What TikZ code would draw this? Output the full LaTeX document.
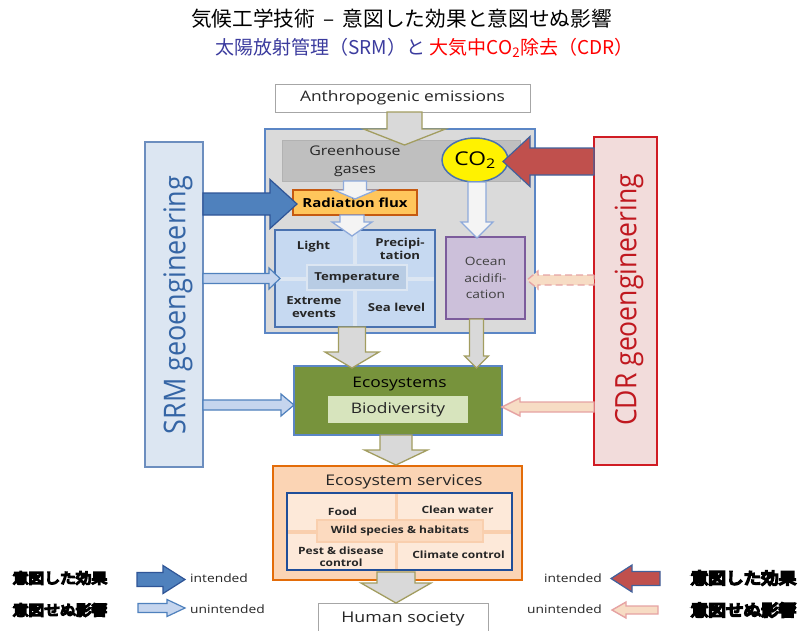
\documentclass[tikz,border=0pt]{standalone}
\usepackage{fontspec}
\usetikzlibrary{calc,shapes.geometric}
\setmainfont{Open Sans}[FakeStretch=1.2]
\newfontfamily\sidefont{Open Sans}[FakeStretch=0.9]
\newfontfamily\jp{Noto Sans CJK JP}
\newfontfamily\jpheavy{Noto Sans CJK JP}[FakeBold=11,FakeStretch=1.1]

\definecolor{srmtitle}{HTML}{3B3B9E}
\definecolor{cdrtitle}{HTML}{FF0000}
\definecolor{arrowgray}{HTML}{D9D9D9}
\definecolor{arrowolive}{HTML}{A29D60}
\definecolor{paleblue}{HTML}{F4F4F4}
\definecolor{paleblueline}{HTML}{8EAADB}
\definecolor{srmblue}{HTML}{4F81BD}
\definecolor{srmblueline}{HTML}{2F5597}
\definecolor{srmpale}{HTML}{C5D5EE}
\definecolor{cdrred}{HTML}{C0504D}
\definecolor{cdrredline}{HTML}{41619C}
\definecolor{cdrpale}{HTML}{F7DCC4}
\definecolor{cdrpaleline}{HTML}{E6A3A3}
\definecolor{srmfill}{HTML}{DCE6F2}
\definecolor{srmline}{HTML}{6C8EBF}
\definecolor{srmtext}{HTML}{3565A5}
\definecolor{cdrfill}{HTML}{F2DCDB}
\definecolor{cdrline}{HTML}{D01C24}
\definecolor{cdrtext}{HTML}{C0181F}
\definecolor{mainfill}{HTML}{DADADA}
\definecolor{mainline}{HTML}{5B86C5}
\definecolor{ghgfill}{HTML}{BFBFBF}
\definecolor{radfill}{HTML}{FFC65C}
\definecolor{radline}{HTML}{C55A11}
\definecolor{climfill}{HTML}{C6D9F1}
\definecolor{climline}{HTML}{4A72B0}
\definecolor{climgap}{HTML}{DCE6F2}
\definecolor{tempfill}{HTML}{B8CCE4}
\definecolor{oceanfill}{HTML}{CCC0DA}
\definecolor{oceanline}{HTML}{7C5C9C}
\definecolor{ecofill}{HTML}{77933C}
\definecolor{biofill}{HTML}{D7E4BD}
\definecolor{servfill}{HTML}{FBD4B4}
\definecolor{servline}{HTML}{E36C09}
\definecolor{servin}{HTML}{FDE9D9}
\definecolor{servinline}{HTML}{1F4E99}
\definecolor{servgap}{HTML}{F9CFAE}
\definecolor{bodytext}{HTML}{262626}

% Block arrows: style, from, to, shaft half width, head half width, head length
\newcommand\downblock[6]{\draw[#1] let \p1=(#2), \p2=(#3) in
  (\x1-#4,\y1) -- (\x1+#4,\y1) -- (\x1+#4,\y2+#6) -- (\x1+#5,\y2+#6) -- (\x1,\y2)
  -- (\x1-#5,\y2+#6) -- (\x1-#4,\y2+#6) -- cycle;}
\newcommand\rightblock[6]{\draw[#1] let \p1=(#2), \p2=(#3) in
  (\x1,\y1+#4) -- (\x2-#6,\y1+#4) -- (\x2-#6,\y1+#5) -- (\x2,\y1)
  -- (\x2-#6,\y1-#5) -- (\x2-#6,\y1-#4) -- (\x1,\y1-#4) -- cycle;}
\newcommand\leftblock[6]{\draw[#1] let \p1=(#2), \p2=(#3) in
  (\x1,\y1+#4) -- (\x2+#6,\y1+#4) -- (\x2+#6,\y1+#5) -- (\x2,\y1)
  -- (\x2+#6,\y1-#5) -- (\x2+#6,\y1-#4) -- (\x1,\y1-#4) -- cycle;}

\tikzset{
  box/.style={draw, inner sep=0pt, outer sep=0pt, line width=1.5pt},
  txt/.style={inner sep=0pt, outer sep=0pt, align=center, text=bodytext},
  grayarrow/.style={fill=arrowgray, draw=arrowolive, line width=1.3pt, line join=miter},
  whitearrow/.style={fill=paleblue, draw=paleblueline, line width=1.3pt},
  srmintended/.style={fill=srmblue, draw=srmblueline, line width=1.2pt},
  srmunintended/.style={fill=srmpale, draw=srmblue, line width=1.2pt},
  cdrintended/.style={fill=cdrred, draw=cdrredline, line width=1.2pt},
  cdrunintended/.style={fill=cdrpale, draw=cdrpaleline, line width=1.4pt},
  legendjp/.style={inner sep=0pt, text=black},
}

\begin{document}
\begin{tikzpicture}[x=1pt, y=-1pt]
\useasboundingbox (0,0) rectangle (802,630);
\fill[white] (0,0) rectangle (802,630);

% ---- title ----
\node[inner sep=0pt, font=\jp\fontsize{20.7}{24}\selectfont] (title) at (401.5,19)
  {気候工学技術\hspace{0.4em}–\hspace{0.4em}意図した効果と意図せぬ影響};
\node[inner sep=0pt, font=\jp\fontsize{19}{22}\selectfont] (subtitle) at (424.5,48)
  {\textcolor{srmtitle}{太陽放射管理（SRM）と} \textcolor{cdrtitle}{大気中CO\textsubscript{2}除去（CDR）}};

% ---- side panels ----
\node[box, fill=srmfill, draw=srmline, minimum width=58pt, minimum height=325pt] (srm) at (174,304.5) {};
\node[rotate=90, inner sep=0pt, text=srmtext, font=\sidefont\fontsize{30}{34}\selectfont] (srmtxt) at (178,305) {SRM geoengineering};
\node[box, fill=cdrfill, draw=cdrline, minimum width=63pt, minimum height=328pt] (cdr) at (625.5,301) {};
\node[rotate=90, inner sep=0pt, text=cdrtext, font=\sidefont\fontsize{29.5}{34}\selectfont] (cdrtxt) at (629,300) {CDR geoengineering};

% ---- climate system ----
\node[box, fill=white, draw=black!35, line width=1pt, minimum width=255pt, minimum height=28pt] (anth) at (402.5,98) {};
\node[txt, font=\fontsize{14.5}{17}\selectfont] at (anth) {Anthropogenic emissions};

\node[box, fill=mainfill, draw=mainline, line width=1.2pt, minimum width=270pt, minimum height=204pt] (main) at (400,231) {};
\node[box, fill=ghgfill, draw=black!30, line width=0.8pt, minimum width=238pt, minimum height=41pt] (ghg) at (401,160.5) {};
\node[txt, font=\fontsize{13.3}{18}\selectfont] (ghgtxt) at (355,161) {Greenhouse\\gases};

\node[ellipse, draw=climline, line width=1.5pt, fill=yellow, minimum width=66pt, minimum height=44pt, inner sep=0pt, outer sep=0pt] (co2) at (475,160) {};
\node[txt, text=black, font=\fontsize{19}{20}\selectfont] at (co2) {CO\textsubscript{2}};

\node[box, fill=radfill, draw=radline, minimum width=124pt, minimum height=25pt] (rad) at (355,202.5) {};
\node[txt, text=black, font=\bfseries\fontsize{12.5}{14}\selectfont] at (rad) {Radiation flux};

% climate variables panel
\node[box, fill=climfill, draw=none, minimum width=160pt, minimum height=97pt] (clim) at (355,278.5) {};
\draw[climgap, line width=4pt] (clim.north) -- (clim.south);
\draw[climgap, line width=4pt] (clim.west) -- (clim.east);
\node[box, fill=tempfill, draw=climgap, line width=2pt, minimum width=100pt, minimum height=25pt] (temp) at (357,277.5) {};
\node[box, draw=climline, fill=none, minimum width=160pt, minimum height=97pt] at (clim) {};
\begin{scope}[every node/.style={txt, font=\bfseries\fontsize{11}{13}\selectfont}]
  \node (light) at (313.5,247) {Light};
  \node (precip) at (400,249) {Precipi-\\tation};
  \node (temptxt) at (temp) {Temperature};
  \node (extreme) at (314,307) {Extreme\\events};
  \node (sealevel) at (396.5,307) {Sea level};
\end{scope}

\node[box, fill=oceanfill, draw=oceanline, line width=1.3pt, minimum width=79pt, minimum height=82pt] (ocean) at (485.5,278) {};
\node[txt, text=black!75, font=\fontsize{11.5}{16.5}\selectfont] at (ocean) {Ocean\\acidifi-\\cation};

% ---- ecosystems ----
\node[box, fill=ecofill, draw=mainline, line width=1.3pt, minimum width=208pt, minimum height=69pt] (eco) at (398,400.5) {};
\node[txt, text=black, font=\fontsize{14.5}{17}\selectfont] (ecotxt) at (399.5,384.5) {Ecosystems};
\node[box, fill=biofill, draw=none, minimum width=140pt, minimum height=27pt] (bio) at (398,409.5) {};
\node[txt, font=\fontsize{14.5}{17}\selectfont] at (bio) {Biodiversity};

% ---- ecosystem services ----
\node[box, fill=servfill, draw=servline, line width=2pt, minimum width=249pt, minimum height=114pt] (serv) at (397.5,523) {};
\node[txt, font=\fontsize{14.7}{17}\selectfont] (servtxt) at (404,481.5) {Ecosystem services};
\node[box, fill=servin, draw=none, minimum width=225pt, minimum height=77pt] (servbox) at (399.5,531.5) {};
\draw[servgap, line width=3.5pt] (396.7,0 |- servbox.north) -- (396.7,0 |- servbox.south);
\draw[servgap, line width=3.5pt] (servbox.west |- 0,532) -- (servbox.east |- 0,532);
\node[box, fill=servfill!70!servin, draw=servgap, line width=1.5pt, minimum width=166pt, minimum height=22pt] (wild) at (400,531) {};
\node[box, draw=servinline, fill=none, line width=1.3pt, minimum width=225pt, minimum height=77pt] at (servbox) {};
\begin{scope}[every node/.style={txt, font=\bfseries\fontsize{10}{12}\selectfont}]
  \node (food) at (342.5,511.5) {Food};
  \node (water) at (457.5,510) {Clean water};
  \node (wildtxt) at (wild) {Wild species \& habitats};
  \node (pest) at (341,557) {Pest \& disease\\control};
  \node (climctl) at (458.5,554.5) {Climate control};
\end{scope}

\node[box, fill=white, draw=black!35, line width=1pt, minimum width=170pt, minimum height=34pt] (human) at (403,620) {};
\node[txt, font=\fontsize{14.8}{17}\selectfont] at (403,619) {Human society};

% ---- flows inside the system ----
\downblock{grayarrow}{$(anth.south)+(2,0)$}{$(anth.south |- ghg.north)+(2,5)$}{17.5pt}{41pt}{16pt}
\downblock{whitearrow}{ghg.south -| rad.north}{$(rad.north)+(1,9)$}{11.5pt}{21pt}{9pt}
\downblock{whitearrow}{$(rad.south)+(-3,0)$}{$(rad.south |- clim.north)+(-3,6)$}{12pt}{20pt}{14pt}
\downblock{whitearrow}{$(co2.south)+(2,0)$}{$(co2.south |- ocean.north)+(2,1)$}{9pt}{16pt}{16pt}
\downblock{grayarrow}{$(clim.south)+(-3,0)$}{$(clim.south |- eco.north)+(-3,2)$}{13.5pt}{27pt}{16pt}
\downblock{grayarrow}{$(ocean.south)+(-9,0)$}{$(ocean.south |- eco.north)+(-9,2)$}{7pt}{12pt}{12pt}
\downblock{grayarrow}{$(eco.south)+(-2,0)$}{$(eco.south |- serv.north)+(-2,-1)$}{16pt}{31.5pt}{15pt}
\downblock{grayarrow}{$(serv.south)+(-1.5,-8)$}{$(serv.south |- human.north)+(-1.5,0)$}{19pt}{35pt}{20pt}

% ---- geoengineering interventions ----
\rightblock{srmintended}{$(srm.east |- rad.west)+(0,1.5)$}{$(rad.west)+(4,0)$}{11pt}{24.5pt}{27pt}
\rightblock{srmunintended}{srm.east |- clim.west}{$(clim.west)+(5,0)$}{5pt}{10.5pt}{11pt}
\rightblock{srmunintended}{$(srm.east |- eco.west)+(0,4.5)$}{eco.west}{5pt}{11pt}{13pt}
\leftblock{cdrintended}{$(cdr.west |- co2.east)+(0,1.5)$}{$(co2.east)+(-5,0)$}{13.5pt}{25pt}{27pt}
\leftblock{cdrunintended, dashed, dash pattern=on 7pt off 4pt}{$(cdr.west |- ocean.east)+(0,2)$}{$(ocean.east)+(2,0)$}{5pt}{9pt}{11pt}
\leftblock{cdrunintended}{$(cdr.west |- eco.east)+(0,6.5)$}{eco.east}{5pt}{9pt}{18pt}

% ---- legend ----
\coordinate (lgA0) at (137,579.5);  \coordinate (lgA1) at (185,579.5);
\coordinate (lgB0) at (138,608);    \coordinate (lgB1) at (185,608);
\coordinate (lgC0) at (660,578.5);  \coordinate (lgC1) at (611,578.5);
\coordinate (lgD0) at (658,610);    \coordinate (lgD1) at (612,610);
\rightblock{srmintended}{lgA0}{lgA1}{7pt}{14pt}{22pt}
\rightblock{srmunintended}{lgB0}{lgB1}{4.5pt}{8.5pt}{18pt}
\leftblock{cdrintended}{lgC0}{lgC1}{7pt}{13.5pt}{21pt}
\leftblock{cdrunintended}{lgD0}{lgD1}{4pt}{8pt}{14pt}
\begin{scope}[every node/.style={inner sep=0pt, text=black!85, font=\fontsize{11.5}{13}\selectfont}]
  \node[anchor=west] (lgAt) at (190,578) {intended};
  \node[anchor=west] (lgBt) at (190,609) {unintended};
  \node[anchor=east] (lgCt) at (602,578) {intended};
  \node[anchor=east] (lgDt) at (602,609) {unintended};
\end{scope}
\node[legendjp, font=\jpheavy\fontsize{14.3}{16}\selectfont] (jpA) at (60,578) {意図した効果};
\node[legendjp, font=\jpheavy\fontsize{14.3}{16}\selectfont] (jpB) at (60,610) {意図せぬ影響};
\node[legendjp, font=\jpheavy\fontsize{16}{18}\selectfont] (jpC) at (743.5,578) {意図した効果};
\node[legendjp, font=\jpheavy\fontsize{16}{18}\selectfont] (jpD) at (743.5,610) {意図せぬ影響};
\end{tikzpicture}
\end{document}
